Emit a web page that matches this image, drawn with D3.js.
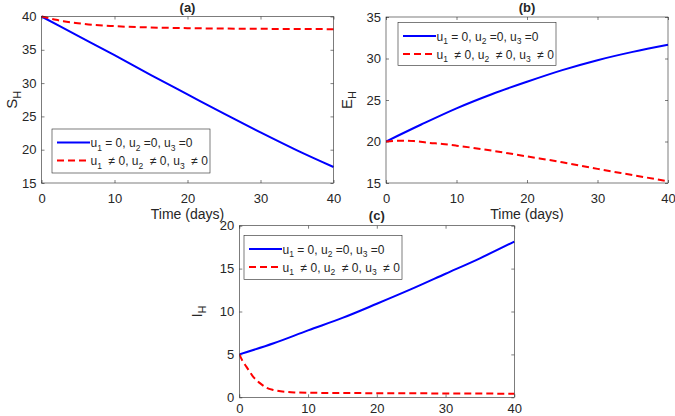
<!DOCTYPE html>
<html>
<head>
<meta charset="utf-8">
<script src="https://cdn.jsdelivr.net/npm/d3@7"></script>
<style>
  html, body { margin: 0; padding: 0; background: #fff; }
  svg { display: block; }
  text { font-family: "Liberation Sans", Arial, Helvetica, sans-serif; fill: #262626; white-space: pre; }
</style>
</head>
<body>
<svg id="chart" width="675" height="416"></svg>
<script>
// ---------------- data ----------------
const xTicks = [0, 10, 20, 30, 40];

// (a) S_H
const tA_blue = [0, 5, 10, 15, 20, 25, 30, 35, 40];
const sA_blue = [40, 37.1, 34.2, 31.2, 28.3, 25.4, 22.6, 19.9, 17.4];
const tA_red = [0, 1, 2, 3, 5, 7, 10, 15, 20, 30, 40];
const sA_red = [40, 39.75, 39.5, 39.3, 39.0, 38.75, 38.55, 38.35, 38.25, 38.15, 38.1];
const yTicksA = [15, 20, 25, 30, 35, 40];

// (b) E_H
const tB_blue = [0, 5, 10, 15, 20, 25, 30, 35, 40];
const eB_blue = [20, 22.05, 24.0, 25.7, 27.2, 28.6, 29.8, 30.8, 31.65];
const tB_red = [0, 2, 4, 6, 8, 10, 15, 20, 25, 30, 35, 40];
const eB_red = [20, 20.1, 20.05, 19.85, 19.7, 19.5, 18.9, 18.2, 17.5, 16.7, 15.95, 15.2];
const yTicksB = [15, 20, 25, 30, 35];

// (c) I_H
const tC_blue = [0, 5, 10, 15, 20, 25, 30, 35, 40];
const iC_blue = [5, 6.3, 7.8, 9.25, 10.9, 12.6, 14.4, 16.2, 18.15];
const tC_red = [0, 0.5, 1, 1.5, 2, 2.5, 3, 4, 5, 6, 7, 8, 10, 15, 20, 30, 40];
const iC_red = [5, 4.2, 3.6, 3.0, 2.4, 2.0, 1.65, 1.1, 0.85, 0.7, 0.62, 0.57, 0.53, 0.5, 0.48, 0.45, 0.42];
const yTicksC = [0, 5, 10, 15, 20];

const legendLabels = [
  [["u", ""], ["1", "sub"], [" = 0, u", ""], ["2", "sub"], [" =0, u", ""], ["3", "sub"], [" =0", ""]],
  [["u", ""], ["1", "sub"], ["  \u2260 0, u", ""], ["2", "sub"], ["  \u2260 0, u", ""], ["3", "sub"], ["  \u2260 0", ""]]
];

// ---------------- drawing ----------------
const svg = d3.select("#chart");
const AX = "#262626";

function zip(t, v) { return t.map((d, i) => ({ t: d, v: v[i] })); }

function panel(cfg) {
  const x = d3.scaleLinear().domain([0, 40]).range([cfg.left, cfg.right]);
  const y = d3.scaleLinear().domain(cfg.ydom).range([cfg.bottom, cfg.top]);
  const g = svg.append("g");

  g.append("rect").attr("x", cfg.left).attr("y", cfg.top)
    .attr("width", cfg.right - cfg.left).attr("height", cfg.bottom - cfg.top)
    .attr("fill", "#fff");

  const tl = 3;
  const xb = d3.axisBottom(x).tickValues(xTicks).tickSizeInner(-tl).tickSizeOuter(0).tickPadding(cfg.xpad);
  const gx = g.append("g").attr("transform", `translate(0,${cfg.bottom})`).call(xb);
  const xt = d3.axisTop(x).tickValues(xTicks).tickSizeInner(-tl).tickSizeOuter(0).tickFormat("");
  const gxt = g.append("g").attr("transform", `translate(0,${cfg.top})`).call(xt);
  const yl = d3.axisLeft(y).tickValues(cfg.yticks).tickSizeInner(-tl).tickSizeOuter(0).tickPadding(5);
  const gy = g.append("g").attr("transform", `translate(${cfg.left},0)`).call(yl);
  const yr = d3.axisRight(y).tickValues(cfg.yticks).tickSizeInner(-tl).tickSizeOuter(0).tickFormat("");
  const gyr = g.append("g").attr("transform", `translate(${cfg.right},0)`).call(yr);
  [gx, gxt, gy, gyr].forEach(a => {
    a.select(".domain").remove();
    a.selectAll("line").attr("stroke", AX).attr("stroke-width", 0.6);
    a.selectAll("text").attr("font-size", 13).attr("fill", AX)
      .attr("font-family", "'Liberation Sans', Arial, sans-serif");
  });

  const line = d3.line().x(d => x(d.t)).y(d => y(d.v)).curve(d3.curveMonotoneX);
  const clipId = "clip" + cfg.id;
  g.append("clipPath").attr("id", clipId).append("rect")
    .attr("x", cfg.left).attr("y", cfg.top - 2)
    .attr("width", cfg.right - cfg.left + 1).attr("height", cfg.bottom - cfg.top + 4);
  g.append("path").datum(zip(cfg.tb, cfg.vb)).attr("d", line)
    .attr("fill", "none").attr("stroke", "#0000ff").attr("stroke-width", 2)
    .attr("clip-path", `url(#${clipId})`);
  g.append("path").datum(zip(cfg.tr, cfg.vr)).attr("d", line)
    .attr("fill", "none").attr("stroke", "#ff0000").attr("stroke-width", 2)
    .attr("stroke-dasharray", "7,4")
    .attr("clip-path", `url(#${clipId})`);

  g.append("rect").attr("x", cfg.left).attr("y", cfg.top)
    .attr("width", cfg.right - cfg.left).attr("height", cfg.bottom - cfg.top)
    .attr("fill", "none").attr("stroke", AX).attr("stroke-width", 0.6);

  g.append("text").attr("x", (cfg.left + cfg.right) / 2).attr("y", cfg.titleY)
    .attr("text-anchor", "middle").attr("font-size", 13).attr("font-weight", "bold")
    .attr("fill", "#000").text(cfg.title);

  if (cfg.xlabel) {
    g.append("text").attr("x", (cfg.left + cfg.right) / 2).attr("y", cfg.xlabelY)
      .attr("text-anchor", "middle").attr("font-size", 14).text("Time (days)");
  }

  const ylab = g.append("text")
    .attr("transform", `translate(${cfg.ylabelX},${(cfg.top + cfg.bottom) / 2}) rotate(-90)`)
    .attr("text-anchor", "middle").attr("font-size", 15);
  ylab.append("tspan").text(cfg.ylab[0]);
  ylab.append("tspan").attr("font-size", 11).attr("dy", 4).text(cfg.ylab[1]);

  const L = cfg.legend;
  const lg = g.append("g").attr("transform", `translate(${L.x},${L.y})`);
  lg.append("rect").attr("width", L.w).attr("height", L.h)
    .attr("fill", "#fff").attr("stroke", AX).attr("stroke-width", 0.6);
  const rows = [13.5, 31.5];
  const styles = [{ c: "#0000ff", d: null }, { c: "#ff0000", d: "7,4" }];
  rows.forEach((ry, i) => {
    const ln = lg.append("line").attr("x1", 5).attr("x2", 38).attr("y1", ry).attr("y2", ry)
      .attr("stroke", styles[i].c).attr("stroke-width", 2);
    if (styles[i].d) ln.attr("stroke-dasharray", styles[i].d);
    const t = lg.append("text").attr("x", 38.5).attr("y", ry + 4.5).attr("font-size", 12);
    let first = true;
    legendLabels[i].forEach(([s, kind]) => {
      if (kind === "sub") {
        t.append("tspan").attr("font-size", 8.5).attr("dy", 3.5).text(s);
      } else {
        t.append("tspan").attr("dy", first ? 0 : -3.5).text(s);
      }
      first = false;
    });
  });
}

panel({
  id: "a", left: 41.5, right: 333.5, top: 16.5, bottom: 183, ydom: [15, 40], yticks: yTicksA,
  tb: tA_blue, vb: sA_blue, tr: tA_red, vr: sA_red, xpad: 10.5,
  title: "(a)", titleY: 12, xlabel: true, xlabelY: 219, ylab: ["S", "H"], ylabelX: 17,
  legend: { x: 52, y: 129, w: 158, h: 44 }
});
panel({
  id: "b", left: 386, right: 668, top: 17, bottom: 183, ydom: [15, 35], yticks: yTicksB,
  tb: tB_blue, vb: eB_blue, tr: tB_red, vr: eB_red, xpad: 10.5,
  title: "(b)", titleY: 12, xlabel: true, xlabelY: 219, ylab: ["E", "H"], ylabelX: 352,
  legend: { x: 398, y: 22.5, w: 158, h: 43 }
});
panel({
  id: "c", left: 239.3, right: 514.3, top: 225.7, bottom: 397.3, ydom: [0, 20], yticks: yTicksC,
  tb: tC_blue, vb: iC_blue, tr: tC_red, vr: iC_red, xpad: 6.5,
  title: "(c)", titleY: 220, xlabel: false, ylab: ["I", "H"], ylabelX: 202,
  legend: { x: 244, y: 235.5, w: 158, h: 44 }
});
</script>
</body>
</html>
